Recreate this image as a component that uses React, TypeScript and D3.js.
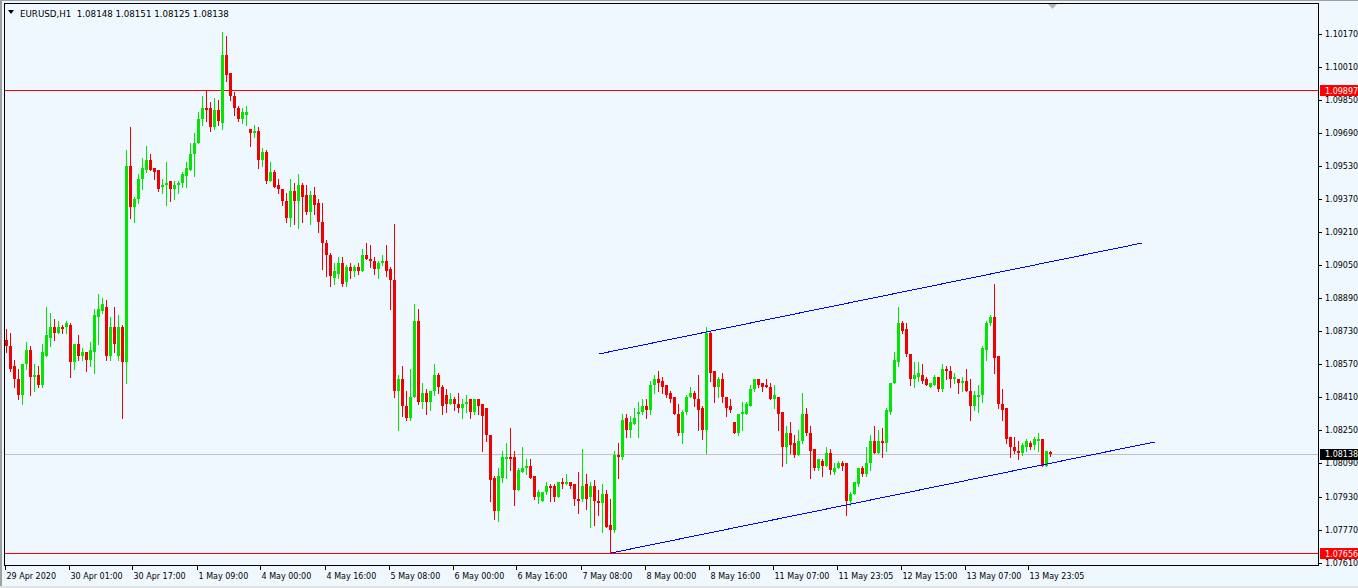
import * as d3 from "d3";

const header = "EURUSD,H1  1.08148 1.08151 1.08125 1.08138";

// hourly bars, oldest first
const opens = [
  1.0869, 1.0866, 1.0856, 1.085, 1.0842, 1.0857, 1.0864, 1.0851, 1.0852, 1.0847,
  1.0861, 1.087, 1.0875, 1.0872, 1.0875, 1.0875, 1.0876, 1.0858, 1.0867, 1.0861,
  1.0863, 1.0859, 1.0863, 1.088, 1.0883, 1.0885, 1.0861, 1.0875, 1.0861, 1.0875,
  1.0858, 1.0953, 1.0933, 1.0937, 1.0947, 1.0951, 1.0956, 1.0952, 1.0951, 1.0943,
  1.0944, 1.0946, 1.0942, 1.0944, 1.0945, 1.0948, 1.0951, 1.0959, 1.0964, 1.0976,
  1.0981, 1.0981, 1.0972, 1.098, 1.0974, 1.1007, 1.0998, 1.0987, 1.0981, 1.0976,
  1.0978, 1.0971, 1.0969, 1.097, 1.0956, 1.096, 1.0946, 1.095, 1.0944, 1.0942,
  1.0936, 1.0928, 1.0941, 1.0936, 1.0944, 1.0939, 1.0931, 1.0939, 1.0935, 1.0926,
  1.0916, 1.091, 1.0899, 1.0901, 1.0906, 1.0897, 1.0904, 1.0902, 1.0904, 1.0902,
  1.091, 1.0908, 1.0907, 1.0903, 1.0906, 1.0907, 1.0903, 1.0898, 1.0844, 1.085,
  1.0837, 1.0831, 1.0841, 1.0878, 1.0839, 1.0843, 1.0839, 1.0844, 1.0852, 1.0846,
  1.0842, 1.0838, 1.084, 1.0838, 1.0836, 1.0838, 1.084, 1.0834, 1.084, 1.0838,
  1.0836, 1.0823, 1.0802, 1.0786, 1.0802, 1.0811, 1.0812, 1.0812, 1.0796, 1.0805,
  1.0807, 1.0808, 1.0803, 1.0793, 1.0791, 1.0795, 1.0798, 1.0798, 1.0793, 1.08,
  1.0799, 1.08, 1.0799, 1.0792, 1.0792, 1.0799, 1.0793, 1.0798, 1.0791, 1.079,
  1.0794, 1.0779, 1.0777, 1.0813, 1.0812, 1.0831, 1.0825, 1.0828, 1.0833, 1.0834,
  1.0837, 1.0835, 1.0847, 1.085, 1.0849, 1.0847, 1.0843, 1.0841, 1.0833, 1.0824,
  1.0834, 1.0841, 1.0843, 1.084, 1.0836, 1.0825, 1.0872, 1.0854, 1.0846, 1.085,
  1.0841, 1.0837, 1.0829, 1.0824, 1.0833, 1.0833, 1.0837, 1.0845, 1.085, 1.0848,
  1.0847, 1.0846, 1.084, 1.0841, 1.0834, 1.0817, 1.0824, 1.0819, 1.0813, 1.082,
  1.0833, 1.0824, 1.0816, 1.0807, 1.081, 1.0808, 1.0814, 1.0805, 1.0807, 1.0809,
  1.0809, 1.0791, 1.0794, 1.0799, 1.0807, 1.0804, 1.0809, 1.082, 1.0814, 1.082,
  1.0819, 1.0834, 1.0848, 1.0858, 1.0877, 1.0874, 1.0862, 1.085, 1.0851, 1.0852,
  1.085, 1.0846, 1.0847, 1.0851, 1.0845, 1.0855, 1.0854, 1.085, 1.085, 1.0848,
  1.0849, 1.0844, 1.0837, 1.0841, 1.0842, 1.0864, 1.0877, 1.088, 1.0861, 1.0838,
  1.0836, 1.0822, 1.0817, 1.0815, 1.0814, 1.0817, 1.0819, 1.0818, 1.082, 1.0821,
  1.0808, 1.08148,
];

const highs = [
  1.0874, 1.0872, 1.0859, 1.0855, 1.0857, 1.0868, 1.0866, 1.0857, 1.0856, 1.0867,
  1.0885, 1.0882, 1.0879, 1.0878, 1.0876, 1.0878, 1.0877, 1.0867, 1.0871, 1.0865,
  1.0863, 1.0868, 1.0884, 1.0891, 1.0889, 1.0888, 1.088, 1.0885, 1.0881, 1.0876,
  1.0961, 1.0972, 1.0938, 1.0949, 1.0957, 1.0963, 1.0959, 1.0952, 1.0951, 1.0947,
  1.0955, 1.0946, 1.0946, 1.0946, 1.095, 1.0955, 1.0964, 1.0969, 1.0979, 1.0987,
  1.099, 1.0984, 1.0986, 1.0985, 1.1018, 1.1016, 1.0998, 1.0989, 1.0982, 1.0981,
  1.0982, 1.0971, 1.0973, 1.0972, 1.0962, 1.0961, 1.0955, 1.0951, 1.0947, 1.0942,
  1.094, 1.0947, 1.0945, 1.0949, 1.0945, 1.0944, 1.0941, 1.0943, 1.0937, 1.0935,
  1.0917, 1.0911, 1.0906, 1.0909, 1.0909, 1.0905, 1.0906, 1.0905, 1.0906, 1.0913,
  1.0916, 1.0915, 1.0909, 1.0907, 1.091, 1.0915, 1.0904, 1.0925, 1.0852, 1.0856,
  1.0844, 1.0855, 1.0886, 1.0884, 1.0848, 1.0845, 1.0844, 1.0857, 1.0853, 1.0847,
  1.0845, 1.0843, 1.0841, 1.0843, 1.084, 1.0842, 1.084, 1.084, 1.084, 1.0838,
  1.0836, 1.0823, 1.0803, 1.0807, 1.0815, 1.0819, 1.0826, 1.0815, 1.0807, 1.0817,
  1.0811, 1.0811, 1.0803, 1.0796, 1.0795, 1.08, 1.0799, 1.0799, 1.08, 1.0802,
  1.0804, 1.08, 1.0799, 1.0805, 1.0816, 1.0804, 1.08, 1.0801, 1.0796, 1.0799,
  1.0796, 1.0792, 1.0815, 1.0819, 1.0833, 1.0833, 1.0832, 1.0836, 1.0839, 1.084,
  1.084, 1.0849, 1.0852, 1.0854, 1.0851, 1.0847, 1.0844, 1.0841, 1.0838, 1.0835,
  1.0842, 1.0846, 1.0844, 1.0852, 1.0837, 1.0875, 1.0873, 1.0854, 1.0851, 1.0853,
  1.0841, 1.084, 1.0829, 1.0833, 1.0839, 1.0839, 1.0847, 1.085, 1.085, 1.0848,
  1.085, 1.0848, 1.0847, 1.0841, 1.0834, 1.0827, 1.0829, 1.0823, 1.0825, 1.0843,
  1.0836, 1.0827, 1.0816, 1.0811, 1.0811, 1.0817, 1.0816, 1.0809, 1.081, 1.081,
  1.0809, 1.0795, 1.08, 1.0807, 1.0808, 1.0817, 1.0823, 1.0827, 1.0825, 1.0826,
  1.0836, 1.0848, 1.0863, 1.0885, 1.0878, 1.0877, 1.0862, 1.0858, 1.0858, 1.0857,
  1.0851, 1.0848, 1.0852, 1.0851, 1.0857, 1.0856, 1.0856, 1.0853, 1.085, 1.0851,
  1.0855, 1.085, 1.0844, 1.0847, 1.0866, 1.0878, 1.0881, 1.0896, 1.0861, 1.0845,
  1.0836, 1.0822, 1.0822, 1.082, 1.0819, 1.0821, 1.082, 1.0822, 1.0824, 1.0821,
  1.0815, 1.08151,
];

const lows = [
  1.0863, 1.0854, 1.0846, 1.084, 1.0838, 1.0855, 1.0842, 1.0844, 1.0846, 1.0846,
  1.0861, 1.0866, 1.0869, 1.0872, 1.0872, 1.0872, 1.0851, 1.0855, 1.0859, 1.0859,
  1.0854, 1.0856, 1.0853, 1.0867, 1.0882, 1.0859, 1.0859, 1.0863, 1.0859, 1.0831,
  1.0848, 1.0928, 1.0926, 1.0935, 1.0942, 1.095, 1.0951, 1.0947, 1.0941, 1.094,
  1.0934, 1.0936, 1.0937, 1.094, 1.0943, 1.0943, 1.0951, 1.0948, 1.0964, 1.0973,
  1.0975, 1.097, 1.0971, 1.0973, 1.0971, 1.0994, 1.0985, 1.0978, 1.0975, 1.0974,
  1.0973, 1.0963, 1.0967, 1.0952, 1.0953, 1.0945, 1.0946, 1.0943, 1.094, 1.0934,
  1.0926, 1.0924, 1.0925, 1.0923, 1.0926, 1.093, 1.0925, 1.093, 1.0921, 1.0903,
  1.09, 1.0895, 1.0896, 1.0899, 1.0895, 1.0895, 1.0899, 1.09, 1.0901, 1.0902,
  1.0908, 1.0904, 1.0901, 1.0899, 1.0905, 1.09, 1.0884, 1.0841, 1.0825, 1.0832,
  1.083, 1.083, 1.0841, 1.0838, 1.0836, 1.0833, 1.0835, 1.0842, 1.0843, 1.0833,
  1.0834, 1.0838, 1.0835, 1.0834, 1.0831, 1.0834, 1.0831, 1.0833, 1.0833, 1.0815,
  1.082, 1.0791, 1.0782, 1.0781, 1.08, 1.0802, 1.0806, 1.0789, 1.0796, 1.0805,
  1.0804, 1.0802, 1.0792, 1.079, 1.0791, 1.0794, 1.0791, 1.0791, 1.0793, 1.0797,
  1.0799, 1.0797, 1.0789, 1.0785, 1.0791, 1.0787, 1.0778, 1.0779, 1.0784, 1.0776,
  1.0778, 1.07656, 1.0776, 1.0802, 1.0811, 1.0822, 1.0822, 1.0828, 1.0822, 1.0833,
  1.0831, 1.0833, 1.0843, 1.0844, 1.0843, 1.0841, 1.0839, 1.0833, 1.0823, 1.0819,
  1.0833, 1.0841, 1.0837, 1.0825, 1.0821, 1.0814, 1.0849, 1.0839, 1.0841, 1.0839,
  1.0832, 1.0834, 1.0824, 1.0823, 1.0825, 1.0833, 1.0837, 1.0844, 1.0846, 1.0844,
  1.0846, 1.084, 1.0836, 1.0825, 1.0808, 1.0809, 1.0814, 1.0812, 1.0813, 1.0819,
  1.0823, 1.0802, 1.0806, 1.0806, 1.0803, 1.0808, 1.0804, 1.0804, 1.0807, 1.0806,
  1.0784, 1.0789, 1.0794, 1.0798, 1.0803, 1.0803, 1.0806, 1.0814, 1.0814, 1.0812,
  1.0815, 1.0833, 1.0848, 1.0856, 1.0872, 1.0861, 1.0847, 1.0846, 1.0849, 1.0848,
  1.0847, 1.0846, 1.0847, 1.0844, 1.0844, 1.085, 1.0846, 1.0848, 1.0843, 1.0844,
  1.0844, 1.083, 1.0835, 1.0834, 1.0839, 1.0859, 1.0876, 1.0853, 1.0836, 1.083,
  1.0819, 1.0812, 1.0814, 1.0811, 1.0813, 1.0815, 1.0816, 1.0816, 1.0815, 1.0808,
  1.0808, 1.08125,
];

const closes = [
  1.0866, 1.0855, 1.085, 1.0842, 1.0857, 1.0864, 1.0851, 1.0852, 1.0847, 1.0863,
  1.0871, 1.0875, 1.0872, 1.0875, 1.0874, 1.0877, 1.0858, 1.0867, 1.0861, 1.0863,
  1.0859, 1.0864, 1.0881, 1.0884, 1.0886, 1.0861, 1.0875, 1.0867, 1.0875, 1.0858,
  1.0953, 1.0933, 1.0937, 1.0947, 1.0952, 1.0956, 1.0951, 1.095, 1.0942, 1.0944,
  1.0945, 1.0942, 1.0944, 1.0945, 1.0949, 1.0952, 1.0959, 1.0964, 1.0976, 1.0981,
  1.098, 1.0972, 1.098, 1.0975, 1.1007, 1.0997, 1.0987, 1.0981, 1.0976, 1.0979,
  1.0979, 1.0969, 1.097, 1.0956, 1.096, 1.0946, 1.095, 1.0943, 1.0942, 1.0936,
  1.0928, 1.0941, 1.0936, 1.0944, 1.0938, 1.0931, 1.0939, 1.0934, 1.0926, 1.0916,
  1.091, 1.09, 1.0902, 1.0906, 1.0896, 1.0904, 1.0902, 1.0904, 1.0902, 1.091,
  1.0908, 1.0907, 1.0903, 1.0906, 1.0907, 1.0902, 1.0898, 1.0844, 1.085, 1.0837,
  1.0831, 1.0841, 1.0878, 1.0839, 1.0843, 1.0839, 1.0844, 1.0852, 1.0846, 1.0837,
  1.0838, 1.084, 1.0838, 1.0836, 1.0838, 1.0839, 1.0834, 1.084, 1.0837, 1.0832,
  1.0823, 1.0801, 1.0786, 1.0803, 1.0812, 1.0812, 1.0811, 1.0796, 1.0806, 1.0807,
  1.0808, 1.0802, 1.0793, 1.0795, 1.0795, 1.0798, 1.0797, 1.0793, 1.08, 1.0799,
  1.08, 1.0798, 1.0792, 1.0791, 1.0798, 1.0792, 1.0798, 1.0791, 1.079, 1.0794,
  1.0778, 1.0777, 1.0813, 1.0812, 1.083, 1.0825, 1.0829, 1.0831, 1.0834, 1.0837,
  1.0835, 1.0847, 1.085, 1.0848, 1.0846, 1.0842, 1.084, 1.0833, 1.0824, 1.0834,
  1.0841, 1.0843, 1.084, 1.0835, 1.0825, 1.0872, 1.0853, 1.0846, 1.085, 1.0841,
  1.0836, 1.0835, 1.0824, 1.0833, 1.0834, 1.0838, 1.0845, 1.085, 1.0847, 1.0846,
  1.0846, 1.084, 1.0842, 1.0833, 1.0817, 1.0824, 1.0818, 1.0813, 1.082, 1.0833,
  1.0824, 1.0815, 1.0807, 1.0811, 1.0808, 1.0814, 1.0806, 1.0807, 1.0809, 1.0808,
  1.0791, 1.0794, 1.08, 1.0807, 1.0804, 1.0809, 1.082, 1.0814, 1.082, 1.0819,
  1.0835, 1.0848, 1.0859, 1.0877, 1.0873, 1.0862, 1.085, 1.0852, 1.0853, 1.0849,
  1.0847, 1.0848, 1.0851, 1.0845, 1.0855, 1.0854, 1.085, 1.0851, 1.0848, 1.0849,
  1.0844, 1.0837, 1.0842, 1.0842, 1.0865, 1.0877, 1.088, 1.086, 1.0838, 1.0835,
  1.0821, 1.0817, 1.0815, 1.0814, 1.0818, 1.082, 1.0817, 1.0821, 1.0821, 1.0808,
  1.0815, 1.08138,
];

// time scale labels, one every 16 bars
const timeLabels = [
  "29 Apr 2020", "30 Apr 01:00", "30 Apr 17:00", "1 May 09:00", "4 May 00:00",
  "4 May 16:00", "5 May 08:00", "6 May 00:00", "6 May 16:00", "7 May 08:00",
  "8 May 00:00", "8 May 16:00", "11 May 07:00", "11 May 23:05", "12 May 15:00",
  "13 May 07:00", "13 May 23:05",
];
const priceTicks = [
  1.0761, 1.0777, 1.0793, 1.0809, 1.0825, 1.0841, 1.0857, 1.0873, 1.0889,
  1.0905, 1.0921, 1.0937, 1.0953, 1.0969, 1.0985, 1.1001, 1.1017,
];

// horizontal lines: [price, line colour, label background]
const hLines: [number, string, string][] = [
  [1.09897, "#ff0000", "#ff0000"],
  [1.08138, "#c0c0c0", "#000000"],
  [1.07656, "#ff0000", "#ff0000"],
];

// channel trendlines: [bar, price] pairs
const channelUpper: [number, number][] = [[148, 1.0862], [284, 1.09158]];
const channelLower: [number, number][] = [[151, 1.07656], [287, 1.08194]];

const W = 1358;
const H = 588;
const plotL = 4;
const plotR = 1318;
const plotT = 3;
const plotB = 565;
const BULL = "#00e600";
const BEAR = "#f00000";
const FONT = "'DejaVu Sans', Verdana, sans-serif";

export default function App() {
  const x = d3.scaleLinear().domain([0, closes.length - 1]).range([6.5, 1050.5]);
  const y = d3.scaleLinear().domain([1.0761, 1.1017]).range([562.6, 34]);
  const py = (p: number) => Math.round(y(p)) + 0.5;

  const lineGen = d3
    .line<[number, number]>()
    .x((d) => x(d[0]))
    .y((d) => y(d[1]));

  return (
    <svg
      width={W}
      height={H}
      style={{ position: "absolute", left: 0, top: 0, display: "block" }}
      fontFamily={FONT}
    >
      <rect x={0} y={0} width={W} height={H} fill="#f0f8ff" />
      <rect x={0} y={0} width={2} height={H} fill="#a0a0a0" />
      <rect x={0} y={0} width={W} height={1} fill="#a0a0a0" />
      <rect x={0} y={H - 2} width={W} height={2} fill="#e3e3e3" />

      {/* horizontal levels */}
      {hLines.map(([p, col], i) => (
        <line key={"hl" + i} x1={plotL} x2={plotR} y1={py(p)} y2={py(p)} stroke={col} strokeWidth={1} shapeRendering="crispEdges" />
      ))}

      {/* candles */}
      <g shapeRendering="crispEdges">
        {closes.map((c, i) => {
          const o = opens[i];
          const up = c > o;
          const col = up ? BULL : BEAR;
          const cx = x(i);
          const hi = Math.max(highs[i], o, c);
          const lo = Math.min(lows[i], o, c);
          const top = Math.round(y(Math.max(o, c)));
          const bot = Math.round(y(Math.min(o, c)));
          return (
            <g key={i}>
              <line x1={cx} x2={cx} y1={Math.round(y(hi))} y2={Math.round(y(lo)) + 1} stroke={col} />
              <rect x={cx - 1.5} y={top} width={3} height={Math.max(1, bot - top)} fill={col} />
            </g>
          );
        })}
      </g>

      {/* channel */}
      <path d={lineGen(channelUpper) || ""} stroke="#0000ff" fill="none" strokeWidth={1} shapeRendering="crispEdges" />
      <path d={lineGen(channelLower) || ""} stroke="#0000ff" fill="none" strokeWidth={1} shapeRendering="crispEdges" />

      {/* frame */}
      <rect
        x={plotL + 0.5}
        y={plotT + 0.5}
        width={plotR - plotL}
        height={plotB - plotT}
        fill="none"
        stroke="#000"
        shapeRendering="crispEdges"
      />

      {/* chart shift marker */}
      <path d="M1048,4 L1057,4 L1052.5,9 Z" fill="#b4b4b4" />

      {/* header */}
      <path d="M8,10 L14,10 L11,14 Z" fill="#000" />
      <text x={20} y={17} fontSize={8.7} fill="#000" style={{ whiteSpace: "pre" }}>
        {header}
      </text>

      {/* price axis */}
      {priceTicks.map((p) => (
        <g key={p}>
          <line x1={plotR} x2={plotR + 4} y1={py(p)} y2={py(p)} stroke="#000" shapeRendering="crispEdges" />
          <text x={1325} y={y(p) + 3} fontSize={8} fill="#000">
            {p.toFixed(5)}
          </text>
        </g>
      ))}
      {hLines.map(([p, , bg], i) => (
        <g key={"lb" + i}>
          <rect x={1320} y={Math.round(y(p)) - 5} width={38} height={11} fill={bg} />
          <text x={1325} y={y(p) + 3.5} fontSize={8} fill="#fff">
            {p.toFixed(5)}
          </text>
        </g>
      ))}

      {/* time axis */}
      {timeLabels.map((t, k) => {
        const tx = Math.round(x(k * 16) - 2) + 0.5;
        return (
          <g key={t + k}>
            <line x1={tx} x2={tx} y1={plotB} y2={plotB + 5} stroke="#000" shapeRendering="crispEdges" />
            <text x={tx + 1} y={579} fontSize={8} fill="#000">
              {t}
            </text>
          </g>
        );
      })}
    </svg>
  );
}
